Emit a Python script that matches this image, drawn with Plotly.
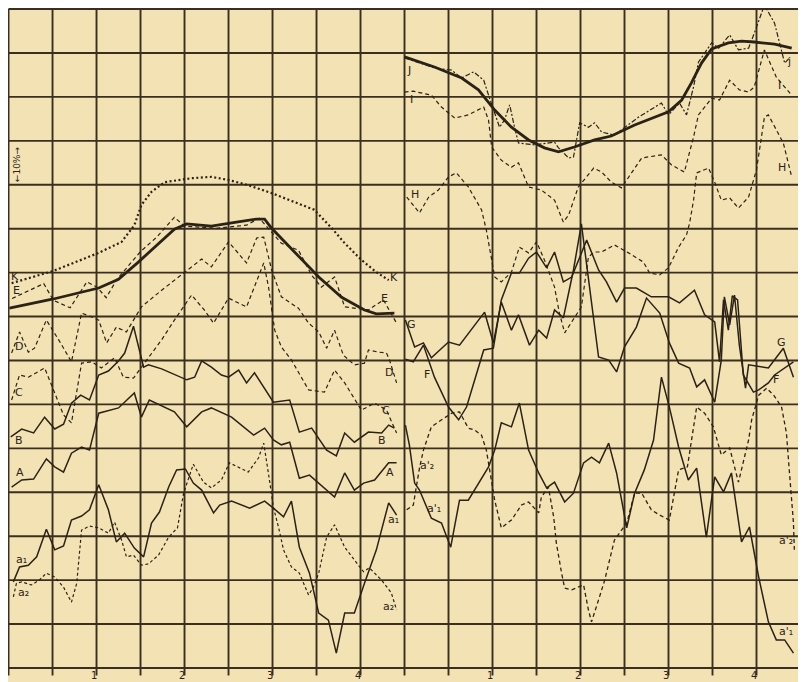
import plotly.graph_objects as go

INK = "#2b2217"
GRID = "#3a2f1f"
PAPER = "#f3e3b4"

# x: grid cells from the left border (2 cells = one labelled unit)
# y: percent (one grid cell = 10 %)

# ---------------- left panel ----------------
K_x = [0.07, 1.02, 2.05, 2.57, 2.86, 3.02, 3.25, 3.55, 4.16, 4.61, 5.0, 5.45, 5.98, 6.5, 6.95, 7.34, 7.64, 8.02, 8.36, 8.64]
K_y = [87.6, 90.4, 94.5, 97.0, 100.8, 105.4, 108.4, 110.6, 111.5, 111.8, 111.1, 109.9, 108.1, 106.1, 104.3, 100.2, 96.7, 92.9, 90.1, 88.3]

E_x = [0.02, 1.02, 2.05, 2.5, 2.95, 3.41, 3.77, 4.05, 4.61, 5.18, 5.64, 5.82, 5.98, 6.5, 7.05, 7.57, 8.09, 8.36, 8.77]
E_y = [81.9, 84.0, 86.5, 88.5, 92.4, 96.5, 99.9, 101.1, 100.6, 101.5, 102.2, 102.2, 100.1, 94.7, 89.0, 84.4, 81.5, 80.6, 80.8]

E_raw_x = [0.08, 0.80, 1.02, 1.40, 1.78, 2.01, 2.22, 2.46, 2.99, 3.37, 3.77, 4.0, 4.73, 5.41, 5.7, 6.2, 6.59, 6.89, 7.11, 7.41, 7.64, 8.18, 8.52, 8.82]
E_raw_y = [84.1, 87.5, 83.7, 82.0, 87.9, 86.7, 84.3, 88.4, 94.7, 98.1, 102.6, 100.6, 100.1, 100.8, 102.4, 96.7, 95.1, 89.4, 86.7, 89.0, 82.2, 81.5, 83.8, 78.5]

D_x = [0.07, 0.25, 0.45, 0.59, 0.86, 1.14, 1.43, 1.66, 1.89, 2.05, 2.23, 2.45, 2.68, 3.02, 3.48, 3.77, 4.0, 4.39, 4.61, 5.0, 5.41, 5.64, 5.8, 5.98, 6.2, 6.59, 6.82, 7.05, 7.23, 7.41, 7.61, 7.86, 8.09, 8.18, 8.41, 8.59, 8.66, 8.82]
D_y = [71.7, 76.5, 71.9, 72.8, 79.2, 74.7, 69.7, 80.8, 79.9, 79.2, 74.0, 77.6, 76.5, 82.2, 86.0, 88.3, 90.1, 93.1, 91.3, 97.0, 92.2, 97.9, 98.1, 90.6, 84.5, 81.9, 78.5, 76.5, 72.8, 76.9, 71.2, 69.0, 69.4, 72.4, 71.9, 71.7, 70.1, 64.9]

C_x = [0.07, 0.25, 0.45, 0.82, 1.05, 1.25, 1.43, 1.66, 1.89, 2.11, 2.41, 2.61, 2.84, 3.09, 3.48, 3.77, 4.16, 4.45, 4.66, 5.0, 5.41, 5.8, 5.91, 6.05, 6.2, 6.43, 6.82, 7.18, 7.41, 7.64, 8.02, 8.32, 8.59, 8.82]
C_y = [61.0, 66.7, 66.2, 68.3, 62.6, 57.6, 55.8, 69.4, 69.7, 68.3, 70.6, 66.2, 66.0, 69.4, 74.7, 79.2, 84.9, 81.5, 78.5, 84.2, 82.2, 92.2, 86.7, 76.9, 73.1, 70.1, 63.3, 62.8, 67.8, 64.9, 58.7, 60.3, 58.7, 53.5]

B_x = [0.05, 0.3, 0.57, 0.82, 1.05, 1.25, 1.43, 1.64, 1.84, 2.05, 2.27, 2.5, 2.64, 2.84, 3.07, 3.18, 3.48, 3.77, 4.05, 4.23, 4.39, 4.61, 4.84, 5.0, 5.23, 5.41, 5.59, 6.02, 6.39, 6.61, 6.89, 7.23, 7.45, 7.64, 7.86, 8.18, 8.48, 8.64, 8.77]
B_y = [52.6, 54.4, 53.5, 57.1, 54.4, 55.5, 60.3, 62.1, 61.0, 66.7, 67.6, 69.9, 71.7, 77.8, 68.5, 69.0, 68.1, 66.9, 65.6, 66.2, 69.9, 68.5, 66.7, 66.2, 67.8, 64.9, 67.2, 60.5, 61.0, 53.7, 54.6, 49.6, 48.3, 53.5, 51.4, 53.7, 53.5, 55.3, 54.6]

A_x = [0.07, 0.3, 0.57, 0.86, 1.05, 1.25, 1.43, 1.66, 1.84, 2.05, 2.5, 2.86, 3.02, 3.2, 3.77, 4.05, 4.39, 4.61, 5.07, 5.57, 5.82, 6.02, 6.2, 6.39, 6.61, 6.84, 7.41, 7.64, 7.86, 8.07, 8.32, 8.64, 8.82]
A_y = [41.2, 42.8, 43.0, 47.6, 45.8, 44.6, 48.9, 50.3, 49.6, 58.0, 59.2, 62.6, 57.1, 61.0, 58.3, 54.9, 58.3, 59.2, 57.1, 53.0, 54.6, 51.9, 50.8, 51.4, 43.2, 43.9, 38.9, 44.4, 40.5, 42.1, 42.8, 46.7, 46.7]

a1_x = [0.11, 0.25, 0.45, 0.64, 0.86, 1.05, 1.25, 1.43, 1.66, 1.84, 2.05, 2.27, 2.45, 2.64, 2.86, 3.07, 3.25, 3.43, 3.64, 3.82, 4.02, 4.2, 4.39, 4.66, 4.8, 5.07, 5.48, 5.82, 6.02, 6.25, 6.43, 6.61, 6.84, 7.05, 7.27, 7.45, 7.64, 7.86, 8.09, 8.36, 8.64, 8.82]
a1_y = [19.6, 23.0, 23.4, 25.3, 31.6, 26.9, 27.8, 33.7, 34.6, 36.0, 41.7, 36.0, 28.7, 30.7, 27.3, 25.3, 33.0, 35.5, 41.2, 45.1, 45.3, 42.1, 40.5, 35.3, 37.1, 38.0, 36.4, 38.0, 36.4, 34.4, 38.0, 27.5, 21.6, 12.5, 10.9, 3.4, 12.5, 12.5, 19.3, 26.9, 37.6, 34.8]

a2_x = [0.11, 0.18, 0.3, 0.52, 0.7, 0.86, 1.05, 1.25, 1.43, 1.55, 1.66, 1.84, 2.05, 2.27, 2.41, 2.57, 2.68, 2.84, 3.02, 3.18, 3.41, 3.64, 3.84, 3.98, 4.2, 4.43, 4.61, 4.84, 5.02, 5.45, 5.68, 5.8, 5.93, 6.02, 6.14, 6.25, 6.43, 6.61, 6.82, 6.93, 7.05, 7.23, 7.41, 7.64, 7.86, 8.07, 8.2, 8.48, 8.7, 8.82]
a2_y = [16.2, 19.3, 19.6, 18.9, 20.0, 21.6, 20.7, 18.4, 15.0, 19.3, 31.4, 32.3, 31.9, 30.7, 33.2, 29.1, 25.3, 25.7, 23.4, 23.7, 25.7, 29.8, 31.9, 39.8, 46.4, 42.3, 41.0, 42.8, 46.7, 44.6, 47.8, 51.2, 42.8, 36.6, 31.9, 26.9, 23.0, 21.6, 16.6, 18.4, 21.6, 29.8, 32.6, 27.5, 24.6, 21.9, 22.8, 20.0, 17.1, 13.2]

# ---------------- right panel ----------------
J_x = [9.0, 9.68, 10.3, 10.68, 11.05, 11.43, 11.82, 12.18, 12.5, 12.86, 13.32, 13.7, 14.23, 15.0, 15.3, 15.52, 15.75, 15.98, 16.36, 16.66, 16.95, 17.41, 17.8]
J_y = [139.1, 136.8, 134.3, 131.6, 127.0, 123.1, 120.2, 118.4, 117.5, 118.6, 120.2, 121.1, 123.6, 126.6, 129.3, 133.2, 137.7, 140.9, 142.3, 142.7, 142.5, 142.0, 141.1]

J_raw_x = [9.0, 9.68, 10.07, 10.3, 10.57, 10.8, 10.91, 11.05, 11.16, 11.27, 11.39, 11.5, 11.59, 11.95, 12.27, 12.41, 12.5, 12.73, 12.84, 12.98, 13.18, 13.32, 13.48, 13.77, 14.32, 14.84, 15.0, 15.11, 15.25, 15.41, 15.57, 15.68, 15.98, 16.14, 16.39, 16.59, 16.82, 16.95, 17.18, 17.41, 17.64, 17.75]
J_raw_y = [138.9, 136.6, 136.1, 134.3, 135.7, 133.8, 130.4, 126.3, 123.1, 124.7, 128.2, 123.1, 119.5, 119.1, 119.5, 119.7, 118.4, 116.1, 116.3, 124.1, 123.1, 124.1, 122.0, 121.3, 125.4, 128.6, 125.9, 127.0, 128.6, 125.9, 132.3, 137.9, 142.3, 141.1, 144.1, 140.7, 141.1, 144.5, 150.9, 146.8, 137.7, 138.9]

I_x = [9.0, 9.2, 9.61, 9.84, 10.14, 10.45, 10.8, 10.91, 10.98, 11.2, 11.43, 11.59, 11.82, 12.11, 12.41, 12.61, 12.73, 12.95, 13.3, 13.48, 13.7, 13.93, 14.39, 14.84, 15.07, 15.36, 15.57, 15.68, 15.98, 16.16, 16.39, 16.61, 16.82, 16.95, 17.18, 17.45, 17.8]
I_y = [131.1, 131.3, 130.4, 127.7, 125.2, 125.9, 127.7, 124.7, 118.6, 115.6, 114.0, 115.0, 109.5, 108.8, 106.5, 101.5, 103.1, 109.5, 113.8, 112.9, 110.6, 109.3, 116.1, 116.8, 114.5, 112.9, 120.9, 125.9, 129.7, 129.3, 133.8, 131.6, 131.1, 132.3, 140.7, 134.5, 130.4]

H_x = [9.05, 9.34, 9.55, 9.77, 10.0, 10.18, 10.45, 10.75, 10.86, 10.98, 11.05, 11.2, 11.43, 11.61, 11.82, 12.0, 12.18, 12.41, 12.52, 12.64, 12.86, 13.02, 13.18, 13.32, 13.48, 13.77, 14.09, 14.43, 14.57, 14.8, 15.0, 15.23, 15.41, 15.48, 15.57, 15.64, 15.91, 16.05, 16.2, 16.39, 16.59, 16.82, 17.0, 17.18, 17.27, 17.61, 17.8]
H_y = [107.2, 103.6, 107.2, 108.8, 111.8, 112.7, 109.5, 104.3, 99.7, 92.9, 89.0, 87.9, 90.1, 95.8, 94.5, 97.0, 92.9, 86.7, 80.8, 76.3, 79.9, 82.2, 93.6, 94.7, 94.7, 96.3, 94.5, 92.4, 89.9, 89.5, 91.1, 95.8, 98.6, 101.3, 106.5, 112.7, 113.8, 110.6, 106.5, 107.0, 104.7, 107.2, 113.4, 125.4, 125.9, 119.5, 111.8]

G_x = [9.02, 9.23, 9.43, 9.61, 10.0, 10.25, 10.82, 11.02, 11.2, 11.43, 11.59, 11.84, 12.05, 12.23, 12.41, 12.61, 12.84, 13.02, 13.41, 13.64, 13.82, 14.0, 14.27, 14.5, 14.8, 15.02, 15.23, 15.48, 15.64, 15.82, 16.05, 16.2, 16.27, 16.39, 16.5, 16.61, 16.75, 16.82, 17.27, 17.61, 17.84]
G_y = [79.2, 73.1, 74.0, 70.6, 74.2, 73.5, 81.0, 74.0, 83.3, 76.9, 80.4, 73.5, 76.9, 75.1, 81.5, 79.7, 90.6, 101.1, 70.8, 70.1, 67.4, 73.1, 77.6, 84.2, 80.8, 74.0, 69.4, 68.3, 64.0, 65.6, 60.5, 70.1, 84.5, 78.1, 84.9, 73.5, 63.7, 69.0, 68.3, 72.8, 66.2]

F_x = [9.02, 9.2, 9.43, 9.68, 10.0, 10.23, 10.41, 10.8, 11.02, 11.2, 11.43, 11.61, 11.82, 12.0, 12.23, 12.41, 12.61, 12.8, 13.14, 13.41, 13.59, 13.82, 14.0, 14.27, 14.61, 15.0, 15.25, 15.59, 15.82, 16.05, 16.16, 16.25, 16.36, 16.45, 16.57, 16.7, 16.93, 17.05, 17.27, 17.41, 17.84]
F_y = [70.3, 69.7, 73.5, 66.2, 59.4, 56.5, 59.4, 72.4, 72.8, 83.8, 89.9, 89.9, 93.3, 94.7, 91.1, 94.7, 87.9, 89.0, 97.4, 90.6, 87.9, 83.3, 86.5, 86.5, 84.5, 84.5, 83.1, 86.0, 80.4, 78.8, 69.7, 83.8, 76.9, 84.7, 83.8, 66.7, 62.8, 63.3, 64.9, 66.7, 69.7]

a1p_x = [9.02, 9.11, 9.23, 9.34, 9.61, 9.84, 10.05, 10.11, 10.25, 10.45, 10.68, 10.91, 11.05, 11.2, 11.43, 11.61, 11.82, 12.05, 12.23, 12.41, 12.64, 12.84, 13.07, 13.25, 13.43, 13.64, 13.82, 14.05, 14.23, 14.45, 14.66, 14.84, 15.02, 15.23, 15.45, 15.64, 15.86, 16.05, 16.25, 16.43, 16.66, 16.84, 17.05, 17.27, 17.45, 17.64, 17.84]
a1p_y = [55.3, 50.8, 42.1, 40.5, 34.1, 33.0, 27.5, 30.7, 38.2, 38.2, 42.1, 45.8, 49.6, 55.8, 54.9, 60.3, 49.6, 44.4, 41.0, 42.3, 37.8, 39.8, 46.7, 48.0, 46.7, 51.2, 44.4, 31.9, 39.8, 45.1, 51.9, 66.2, 59.4, 50.3, 42.8, 45.5, 29.8, 43.5, 40.1, 44.4, 28.7, 32.1, 20.7, 10.5, 6.4, 6.4, 3.4]

a2p_x = [9.05, 9.2, 9.23, 9.34, 9.43, 9.61, 9.77, 10.07, 10.25, 10.45, 10.59, 10.75, 10.86, 10.93, 11.05, 11.2, 11.43, 11.66, 11.82, 11.95, 12.05, 12.11, 12.27, 12.39, 12.45, 12.57, 12.64, 12.8, 13.07, 13.18, 13.25, 13.41, 13.55, 13.77, 14.05, 14.23, 14.39, 14.61, 14.8, 15.02, 15.23, 15.43, 15.52, 15.64, 15.82, 16.02, 16.2, 16.39, 16.59, 16.82, 16.89, 17.05, 17.23, 17.39, 17.57, 17.68, 17.75, 17.84, 17.86]
a2p_y = [36.0, 37.1, 38.9, 45.5, 49.6, 54.9, 56.0, 58.0, 58.3, 54.6, 54.2, 53.0, 49.6, 45.1, 38.2, 31.9, 33.7, 37.1, 37.8, 36.4, 35.3, 38.9, 41.2, 34.4, 28.5, 21.6, 18.2, 17.8, 18.9, 13.2, 10.5, 15.5, 20.0, 29.1, 33.0, 39.8, 39.8, 36.0, 34.8, 33.7, 45.1, 45.8, 51.9, 59.4, 58.0, 54.9, 48.5, 50.1, 42.3, 51.9, 56.5, 62.1, 63.7, 62.1, 59.4, 53.5, 44.4, 33.0, 26.9]

# ---------------- text ----------------
TICK_POS = [2, 4, 6, 8, 11, 13, 15, 17]
TICK_TEXT = ["1", "2", "3", "4", "1", "2", "3", "4"]

LABEL_TEXT = ["K", "E", "D", "C", "B", "A", "a₁", "a₂",
              "K", "E", "D", "C", "B", "A", "a₁", "a₂",
              "J", "I", "H", "G", "F", "a'₂", "a'₁",
              "j", "I", "H", "G", "F", "a'₂", "a'₁"]
LABEL_X = [0.15, 0.18, 0.23, 0.23, 0.23, 0.25, 0.3, 0.34,
           8.75, 8.55, 8.64, 8.59, 8.48, 8.66, 8.75, 8.64,
           9.11, 9.16, 9.23, 9.16, 9.5, 9.5, 9.66,
           17.73, 17.52, 17.57, 17.57, 17.45, 17.68, 17.68]
LABEL_Y = [89.2, 86.0, 73.1, 62.8, 51.9, 44.4, 24.6, 17.1,
           89.0, 84.2, 67.2, 58.7, 51.9, 44.4, 33.7, 13.9,
           136.1, 129.3, 107.7, 78.3, 66.7, 46.2, 36.4,
           138.0, 132.7, 114.0, 74.2, 65.6, 29.1, 8.2]

SERIES = [
    (K_x, K_y, 2.2, "2px,2.5px"),
    (E_x, E_y, 2.8, "solid"),
    (E_raw_x, E_raw_y, 1.2, "4px,3px"),
    (D_x, D_y, 1.2, "4px,3px"),
    (C_x, C_y, 1.2, "4px,3px"),
    (B_x, B_y, 1.5, "solid"),
    (A_x, A_y, 1.5, "solid"),
    (a1_x, a1_y, 1.5, "solid"),
    (a2_x, a2_y, 1.2, "3px,2.5px"),
    (J_x, J_y, 2.8, "solid"),
    (J_raw_x, J_raw_y, 1.2, "5px,2px,2px,2px"),
    (I_x, I_y, 1.2, "4px,3px"),
    (H_x, H_y, 1.2, "4px,3px"),
    (G_x, G_y, 1.5, "solid"),
    (F_x, F_y, 1.5, "solid"),
    (a1p_x, a1p_y, 1.5, "solid"),
    (a2p_x, a2p_y, 1.3, "4px,3px"),
]

fig = go.Figure()
for xs, ys, w, d in SERIES:
    fig.add_trace(go.Scatter(x=xs, y=ys, mode="lines",
                             line=dict(color=INK, width=w, dash=d),
                             hoverinfo="skip", showlegend=False))

# grid (one cell = 10 % vertically, half a labelled unit horizontally)
shapes = []
for i in range(19):
    shapes.append(dict(type="line", xref="x", yref="y", x0=i, x1=i, y0=-1.7, y1=150,
                       line=dict(color=GRID, width=1.9), layer="below"))
for j in range(16):
    shapes.append(dict(type="line", xref="x", yref="y", x0=0, x1=18, y0=10 * j, y1=10 * j,
                       line=dict(color=GRID, width=1.9), layer="below"))

ann = []
for t, x, y in zip(LABEL_TEXT, LABEL_X, LABEL_Y):
    ann.append(dict(x=x, y=y, xref="x", yref="y", text=t, showarrow=False,
                    font=dict(family="DejaVu Sans", size=11, color=INK)))
for t, x in zip(TICK_TEXT, TICK_POS):
    ann.append(dict(x=x, y=-0.1, xref="x", yref="y", text=t, showarrow=False,
                    xanchor="right", yanchor="top", xshift=2,
                    font=dict(family="DejaVu Sans", size=10, color=INK)))
ann.append(dict(x=0.18, y=114.8, xref="x", yref="y", text="←10%→", textangle=-90,
                showarrow=False, font=dict(family="DejaVu Sans", size=9, color=INK)))

# the page body adds an 8 px offset; the figure is sized to fill the rest of the window
fig.update_layout(
    width=798, height=674,
    margin=dict(l=0, r=0, t=0, b=0),
    paper_bgcolor=PAPER, plot_bgcolor=PAPER,
    xaxis=dict(range=[-0.012, 18.125], showgrid=False, zeroline=False,
               showticklabels=False, ticks="", fixedrange=True),
    yaxis=dict(range=[-3.187, 150.24], showgrid=False, zeroline=False,
               showticklabels=False, ticks="", fixedrange=True),
    shapes=shapes, annotations=ann, showlegend=False,
)

fig.write_html("out.html")
